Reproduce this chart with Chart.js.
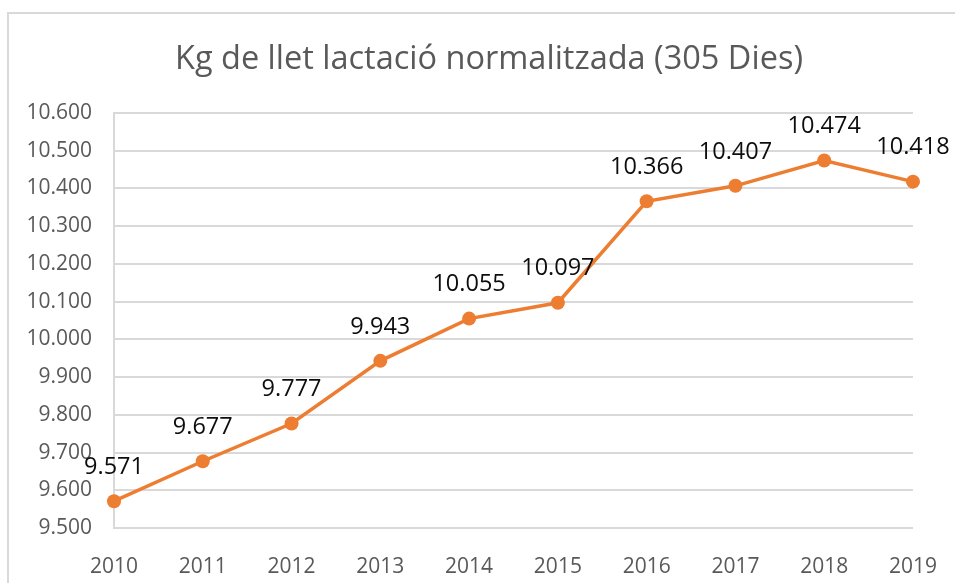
<!DOCTYPE html>
<html>
<head>
<meta charset="utf-8">
<script src="https://cdn.jsdelivr.net/npm/chart.js@4/dist/chart.umd.min.js"></script>
<style>
    html, body { margin: 0; padding: 0; background: #fff; }
    #wrap { position: relative; width: 955px; height: 583px; }
    #frame { position: absolute; left: 7px; top: 12px; width: 960px; height: 600px; border: 2px solid #d9d9d9; box-sizing: border-box; }
    canvas { position: absolute; left: 0; top: 0; }
</style>
</head>
<body>
<div id="wrap">
    <div id="frame"></div>
    <canvas id="milkChart" width="955" height="583"></canvas>
</div>
<script>
const years = ['2010', '2011', '2012', '2013', '2014', '2015', '2016', '2017', '2018', '2019'];
const milkKg = [9571, 9677, 9777, 9943, 10055, 10097, 10366, 10407, 10474, 10418];
const yMin = 9500;
const yMax = 10600;
const yStep = 100;

const FONT = '"Open Sans", Lato, sans-serif';

// thousands with a dot, like the Catalan original
function fmt(v) {
    return String(Math.round(v)).replace(/\B(?=(\d{3})+(?!\d))/g, '.');
}

// simple value labels above each point
const pointLabels = {
    id: 'pointLabels',
    afterDatasetsDraw(chart) {
        const ctx = chart.ctx;
        const meta = chart.getDatasetMeta(0);
        ctx.save();
        ctx.font = '23.5px ' + FONT;
        ctx.fillStyle = '#0d0d0d';
        ctx.textAlign = 'center';
        ctx.textBaseline = 'middle';
        meta.data.forEach((pt, i) => {
            ctx.fillText(fmt(milkKg[i]), pt.x, pt.y - 34);
        });
        ctx.restore();
    }
};

// the original title sits a bit right of the canvas centre
const titleShift = {
    id: 'titleShift',
    afterLayout(chart) {
        if (chart.titleBlock) chart.titleBlock.left = 63;
    }
};

const ctx = document.getElementById('milkChart').getContext('2d');
new Chart(ctx, {
    type: 'line',
    data: {
        labels: years,
        datasets: [{
            label: 'Kg de llet',
            data: milkKg,
            borderColor: '#ed7d31',
            backgroundColor: '#ed7d31',
            borderWidth: 3.5,
            pointRadius: 7,
            pointBorderWidth: 0,
            tension: 0
        }]
    },
    options: {
        responsive: false,
        animation: false,
        layout: { padding: { left: 0, right: 40, top: 13, bottom: 0 } },
        plugins: {
            legend: { display: false },
            tooltip: { enabled: false },
            title: {
                display: true,
                text: 'Kg de llet lactació normalitzada (305 Dies)',
                color: '#595959',
                font: { family: FONT, size: 32.5, weight: 'normal' },
                padding: { top: 27.5, bottom: 33.5 }
            }
        },
        scales: {
            x: {
                offset: false,
                afterFit(scale) { scale.height = 55; },
                grid: { display: false },
                border: { display: true, color: '#d9d9d9', width: 2 },
                ticks: {
                    color: '#595959',
                    font: { family: FONT, size: 21 },
                    padding: 18,
                    maxRotation: 0
                }
            },
            y: {
                min: yMin,
                max: yMax,
                afterFit(scale) { scale.width = 114; },
                grid: { color: '#d9d9d9', lineWidth: 2, drawTicks: false },
                border: { display: true, color: '#d9d9d9', width: 2 },
                ticks: {
                    stepSize: yStep,
                    color: '#595959',
                    font: { family: FONT, size: 21 },
                    padding: 22,
                    callback: (v) => fmt(v)
                }
            }
        }
    },
    plugins: [pointLabels, titleShift]
});
</script>
</body>
</html>
